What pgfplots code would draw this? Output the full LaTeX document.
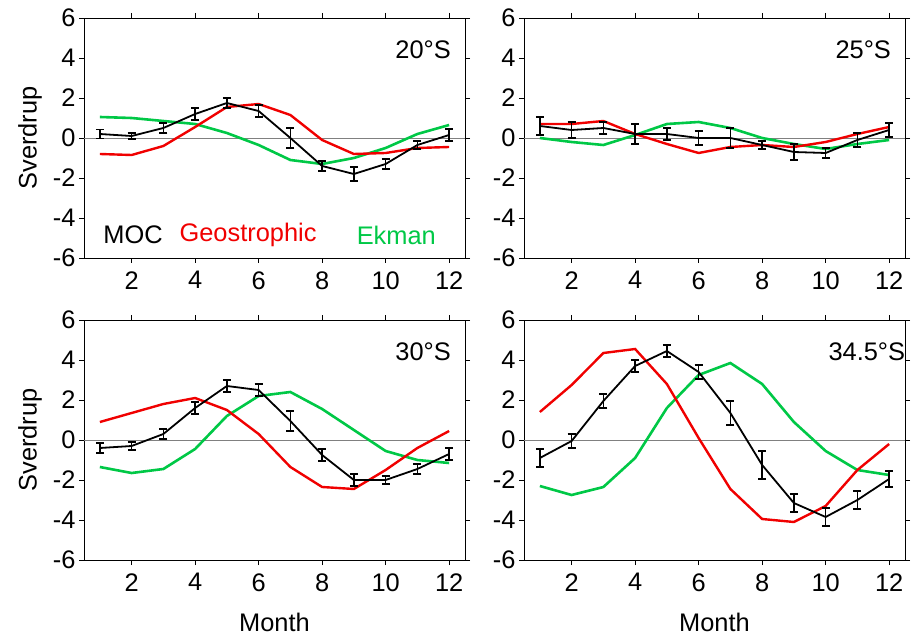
\documentclass[border=0pt]{standalone}
\usepackage{fontspec}
\setmainfont{Liberation Sans}
\usepackage{pgfplots}
\pgfplotsset{compat=1.18}

\definecolor{geored}{RGB}{240,0,0}
\definecolor{ekgreen}{RGB}{0,200,70}

\pgfplotsset{
  panel/.style={
    scale only axis, width=381bp, height=240bp,
    xmin=0.5, xmax=12.5, ymin=-6, ymax=6,
    xtick={2,4,...,12}, ytick={-6,-4,...,6},
    tick align=outside, tick pos=both,
    major tick length=5bp,
    axis line style={line width=0.9bp},
    every tick/.style={line width=0.9bp, black},
    /pgf/number format/assume math mode=true,
    tick label style={font=\fontsize{25.5}{30}\selectfont},
    xticklabel style={yshift=-5bp},
    label style={font=\fontsize{25.5}{30}\selectfont},
    ylabel style={at={(rel axis cs:0,0.5)}, anchor=center, yshift=54bp},
    xlabel style={at={(rel axis cs:0.5,0)}, anchor=center, yshift=-62bp},
    clip=false,
  },
  moc/.style={black, line width=1.8bp, no marks,
    error bars/.cd, y dir=both, y explicit,
    error bar style={line width=1.6bp},
    error mark options={rotate=90, line width=1.6bp, mark size=4bp}},
  geo/.style={geored, line width=2.4bp, no marks},
  ekm/.style={ekgreen, line width=2.6bp, no marks},
  zero/.style={gray, line width=0.9bp, no marks},
}

\begin{document}
\begin{tikzpicture}
\path[use as bounding box] (0,0) rectangle (912bp,638bp);

% 20S
\begin{axis}[panel, at={(84bp,380bp)}, anchor=south west, ylabel={Sverdrup}]
\addplot[zero] coordinates {(0.5,0) (12.5,0)};
\addplot[ekm] coordinates {(1,1.05) (2,1.0) (3,0.85) (4,0.7) (5,0.25) (6,-0.35) (7,-1.1) (8,-1.3) (9,-1.0) (10,-0.5) (11,0.2) (12,0.65)};
\addplot[geo] coordinates {(1,-0.8) (2,-0.85) (3,-0.4) (4,0.55) (5,1.55) (6,1.7) (7,1.15) (8,-0.1) (9,-0.8) (10,-0.75) (11,-0.5) (12,-0.45)};
\addplot[moc] table[x=m, y=v, y error=e] {
m v e
1 0.2 0.22
2 0.1 0.15
3 0.5 0.25
4 1.2 0.3
5 1.75 0.25
6 1.35 0.3
7 0.0 0.5
8 -1.4 0.25
9 -1.8 0.35
10 -1.3 0.25
11 -0.35 0.2
12 0.15 0.3
};
\node[anchor=west, font=\fontsize{25.5}{30}\selectfont] at (axis cs:10.2,4.4) {20°S};
\node[anchor=west, font=\fontsize{25.5}{30}\selectfont] at (axis cs:1.0,-4.85) {MOC};
\node[anchor=west, font=\fontsize{25.5}{30}\selectfont, text=geored] at (axis cs:3.4,-4.85) {Geostrophic};
\node[anchor=west, font=\fontsize{25.5}{30}\selectfont, text=ekgreen] at (axis cs:8.98,-4.85) {Ekman};
\end{axis}

% 25S
\begin{axis}[panel, at={(524bp,380bp)}, anchor=south west]
\addplot[zero] coordinates {(0.5,0) (12.5,0)};
\addplot[ekm] coordinates {(1,0.0) (2,-0.2) (3,-0.35) (4,0.15) (5,0.7) (6,0.8) (7,0.5) (8,0.0) (9,-0.3) (10,-0.55) (11,-0.3) (12,-0.1)};
\addplot[geo] coordinates {(1,0.7) (2,0.7) (3,0.85) (4,0.2) (5,-0.3) (6,-0.75) (7,-0.45) (8,-0.35) (9,-0.45) (10,-0.2) (11,0.2) (12,0.55)};
\addplot[moc] table[x=m, y=v, y error=e] {
m v e
1 0.6 0.45
2 0.4 0.4
3 0.5 0.3
4 0.2 0.5
5 0.2 0.3
6 0.0 0.35
7 0.0 0.5
8 -0.35 0.2
9 -0.7 0.4
10 -0.75 0.25
11 -0.1 0.35
12 0.4 0.35
};
\node[anchor=west, font=\fontsize{25.5}{30}\selectfont] at (axis cs:10.2,4.4) {25°S};
\end{axis}

% 30S
\begin{axis}[panel, at={(84bp,78bp)}, anchor=south west, ylabel={Sverdrup}, xlabel={Month}]
\addplot[zero] coordinates {(0.5,0) (12.5,0)};
\addplot[ekm] coordinates {(1,-1.35) (2,-1.65) (3,-1.45) (4,-0.45) (5,1.2) (6,2.2) (7,2.4) (8,1.55) (9,0.5) (10,-0.55) (11,-1.0) (12,-1.15)};
\addplot[geo] coordinates {(1,0.9) (2,1.35) (3,1.8) (4,2.1) (5,1.5) (6,0.3) (7,-1.35) (8,-2.35) (9,-2.45) (10,-1.5) (11,-0.4) (12,0.45)};
\addplot[moc] table[x=m, y=v, y error=e] {
m v e
1 -0.4 0.25
2 -0.3 0.2
3 0.3 0.25
4 1.6 0.3
5 2.7 0.3
6 2.5 0.3
7 0.95 0.5
8 -0.75 0.3
9 -2.0 0.3
10 -2.0 0.2
11 -1.45 0.25
12 -0.7 0.3
};
\node[anchor=west, font=\fontsize{25.5}{30}\selectfont] at (axis cs:10.2,4.4) {30°S};
\end{axis}

% 34.5S
\begin{axis}[panel, at={(524bp,78bp)}, anchor=south west, xlabel={Month}]
\addplot[zero] coordinates {(0.5,0) (12.5,0)};
\addplot[ekm] coordinates {(1,-2.3) (2,-2.75) (3,-2.35) (4,-0.9) (5,1.6) (6,3.25) (7,3.85) (8,2.8) (9,0.9) (10,-0.55) (11,-1.5) (12,-1.75)};
\addplot[geo] coordinates {(1,1.4) (2,2.75) (3,4.35) (4,4.55) (5,2.8) (6,0.1) (7,-2.45) (8,-3.95) (9,-4.1) (10,-3.3) (11,-1.5) (12,-0.2)};
\addplot[moc] table[x=m, y=v, y error=e] {
m v e
1 -0.9 0.45
2 -0.05 0.35
3 1.95 0.35
4 3.7 0.3
5 4.45 0.3
6 3.4 0.35
7 1.35 0.6
8 -1.25 0.7
9 -3.15 0.45
10 -3.85 0.45
11 -3.0 0.45
12 -1.95 0.4
};
\node[anchor=west, font=\fontsize{25.5}{30}\selectfont] at (axis cs:9.98,4.4) {34.5°S};
\end{axis}
\end{tikzpicture}
\end{document}
